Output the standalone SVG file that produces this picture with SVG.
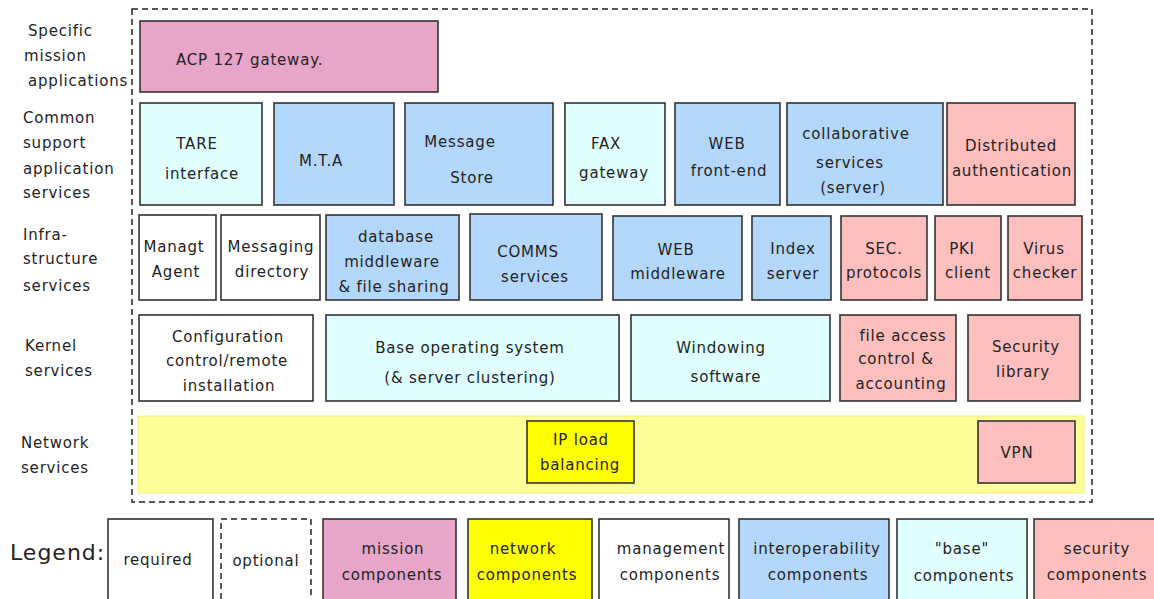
<svg xmlns="http://www.w3.org/2000/svg" width="1154" height="599" viewBox="0 0 1154 599">
  <style>
    text { font-family: "DejaVu Sans", "Liberation Sans", sans-serif; font-size: 15px; fill: #232323; letter-spacing: 0.8px; }
    .c { text-anchor: middle; }
    .box { stroke: #333; stroke-width: 1.6; }
    .frame { fill: none; stroke: #222; stroke-width: 1.5; stroke-dasharray: 6 4; }
    .mission { fill: #e6a5c9; }
    .base { fill: #e0ffff; }
    .interop { fill: #b3d7fa; }
    .security { fill: #fdbebe; }
    .mgmt { fill: #ffffff; }
    .net { fill: #ffff00; }
    .band { fill: #ffff99; stroke: #f0f07a; stroke-width: 1; }
    .legend-title { font-size: 22px; letter-spacing: 1px; }
  </style>

  <rect width="1154" height="599" fill="#ffffff"/>

  <!-- layer labels -->
  <g id="layer-labels">
    <text x="28" y="36">Specific</text>
    <text x="24" y="61">mission</text>
    <text x="28" y="86">applications</text>
    <text x="23" y="123">Common</text>
    <text x="23" y="148">support</text>
    <text x="23" y="174">application</text>
    <text x="23" y="198">services</text>
    <text x="23" y="240">Infra-</text>
    <text x="23" y="264">structure</text>
    <text x="23" y="291">services</text>
    <text x="25" y="351">Kernel</text>
    <text x="25" y="376">services</text>
    <text x="21" y="448">Network</text>
    <text x="21" y="473">services</text>
  </g>

  <!-- optional envelope around the stack -->
  <rect id="stack-frame" class="frame" x="132" y="9" width="960" height="493"/>

  <!-- specific mission applications -->
  <g id="acp127">
    <rect class="box mission" x="140" y="21" width="298" height="71"/>
    <text x="176" y="65">ACP 127 gateway.</text>
  </g>

  <!-- common support application services -->
  <g id="tare">
    <rect class="box base" x="140" y="103" width="122" height="102"/>
    <text class="c" x="197" y="149">TARE</text>
    <text class="c" x="202" y="179">interface</text>
  </g>
  <g id="mta">
    <rect class="box interop" x="274" y="103" width="120" height="102"/>
    <text class="c" x="321" y="166">M.T.A</text>
  </g>
  <g id="message-store">
    <rect class="box interop" x="405" y="103" width="148" height="102"/>
    <text class="c" x="460" y="147">Message</text>
    <text class="c" x="472" y="183">Store</text>
  </g>
  <g id="fax">
    <rect class="box base" x="565" y="103" width="100" height="102"/>
    <text class="c" x="606" y="149">FAX</text>
    <text class="c" x="614" y="178">gateway</text>
  </g>
  <g id="web-front-end">
    <rect class="box interop" x="675" y="103" width="105" height="102"/>
    <text class="c" x="727" y="149">WEB</text>
    <text class="c" x="729" y="176">front-end</text>
  </g>
  <g id="collaborative">
    <rect class="box interop" x="787" y="103" width="156" height="102"/>
    <text class="c" x="856" y="139">collaborative</text>
    <text class="c" x="850" y="168">services</text>
    <text class="c" x="853" y="193">(server)</text>
  </g>
  <g id="distributed-auth">
    <rect class="box security" x="947" y="103" width="128" height="102"/>
    <text class="c" x="1011" y="151">Distributed</text>
    <text class="c" x="1012" y="176">authentication</text>
  </g>

  <!-- infrastructure services -->
  <g id="managt-agent">
    <rect class="box mgmt" x="139" y="215" width="77" height="85"/>
    <text class="c" x="174" y="252">Managt</text>
    <text class="c" x="176" y="277">Agent</text>
  </g>
  <g id="messaging-directory">
    <rect class="box mgmt" x="221" y="215" width="99" height="85"/>
    <text class="c" x="271" y="252">Messaging</text>
    <text class="c" x="272" y="277">directory</text>
  </g>
  <g id="database-middleware">
    <rect class="box interop" x="326" y="215" width="133" height="85"/>
    <text class="c" x="396" y="242">database</text>
    <text class="c" x="392" y="267">middleware</text>
    <text class="c" x="394" y="292">&amp; file sharing</text>
  </g>
  <g id="comms">
    <rect class="box interop" x="470" y="214" width="132" height="86"/>
    <text class="c" x="528" y="257">COMMS</text>
    <text class="c" x="535" y="282">services</text>
  </g>
  <g id="web-middleware">
    <rect class="box interop" x="613" y="216" width="129" height="84"/>
    <text class="c" x="676" y="255">WEB</text>
    <text class="c" x="678" y="279">middleware</text>
  </g>
  <g id="index-server">
    <rect class="box interop" x="752" y="216" width="79" height="84"/>
    <text class="c" x="793" y="254">Index</text>
    <text class="c" x="793" y="279">server</text>
  </g>
  <g id="sec-protocols">
    <rect class="box security" x="841" y="216" width="86" height="84"/>
    <text class="c" x="884" y="254">SEC.</text>
    <text class="c" x="884" y="278">protocols</text>
  </g>
  <g id="pki-client">
    <rect class="box security" x="935" y="216" width="66" height="84"/>
    <text class="c" x="962" y="254">PKI</text>
    <text class="c" x="968" y="278">client</text>
  </g>
  <g id="virus-checker">
    <rect class="box security" x="1008" y="216" width="74" height="84"/>
    <text class="c" x="1044" y="254">Virus</text>
    <text class="c" x="1045" y="278">checker</text>
  </g>

  <!-- kernel services -->
  <g id="configuration-control">
    <rect class="box mgmt" x="139" y="315" width="174" height="86"/>
    <text class="c" x="228" y="342">Configuration</text>
    <text class="c" x="227" y="366">control/remote</text>
    <text class="c" x="229" y="391">installation</text>
  </g>
  <g id="base-os">
    <rect class="box base" x="326" y="315" width="293" height="86"/>
    <text class="c" x="470" y="353">Base operating system</text>
    <text class="c" x="470" y="383">(&amp; server clustering)</text>
  </g>
  <g id="windowing">
    <rect class="box base" x="631" y="315" width="199" height="86"/>
    <text class="c" x="721" y="353">Windowing</text>
    <text class="c" x="726" y="382">software</text>
  </g>
  <g id="file-access-control">
    <rect class="box security" x="840" y="315" width="116" height="86"/>
    <text class="c" x="903" y="341">file access</text>
    <text class="c" x="896" y="364">control &amp;</text>
    <text class="c" x="901" y="389">accounting</text>
  </g>
  <g id="security-library">
    <rect class="box security" x="968" y="315" width="112" height="86"/>
    <text class="c" x="1026" y="352">Security</text>
    <text class="c" x="1023" y="377">library</text>
  </g>

  <!-- network services -->
  <g id="network-services">
    <rect class="band" x="138" y="416" width="946" height="77"/>
  </g>
  <g id="ip-load-balancing">
    <rect class="box net" x="527" y="421" width="107" height="62"/>
    <text class="c" x="581" y="445">IP load</text>
    <text class="c" x="580" y="470">balancing</text>
  </g>
  <g id="vpn">
    <rect class="box security" x="978" y="421" width="97" height="62"/>
    <text class="c" x="1017" y="458">VPN</text>
  </g>

  <!-- legend -->
  <g id="legend">
    <text class="legend-title" x="10" y="560">Legend:</text>
    <rect class="box mgmt" x="108" y="519" width="105" height="100"/>
    <text class="c" x="158" y="565">required</text>
    <rect class="frame" x="221" y="519" width="90" height="100" fill="#ffffff"/>
    <text class="c" x="266" y="566">optional</text>
    <rect class="box mission" x="323" y="519" width="133" height="100"/>
    <text class="c" x="393" y="554">mission</text>
    <text class="c" x="392" y="580">components</text>
    <rect class="box net" x="468" y="519" width="124" height="100"/>
    <text class="c" x="523" y="554">network</text>
    <text class="c" x="527" y="580">components</text>
    <rect class="box mgmt" x="599" y="519" width="130" height="100"/>
    <text class="c" x="671" y="554">management</text>
    <text class="c" x="670" y="580">components</text>
    <rect class="box interop" x="739" y="519" width="150" height="100"/>
    <text class="c" x="817" y="554">interoperability</text>
    <text class="c" x="818" y="580">components</text>
    <rect class="box base" x="897" y="519" width="130" height="100"/>
    <text class="c" x="962" y="554">"base"</text>
    <text class="c" x="964" y="581">components</text>
    <rect class="box security" x="1034" y="519" width="130" height="100"/>
    <text class="c" x="1097" y="554">security</text>
    <text class="c" x="1097" y="580">components</text>
  </g>
</svg>
